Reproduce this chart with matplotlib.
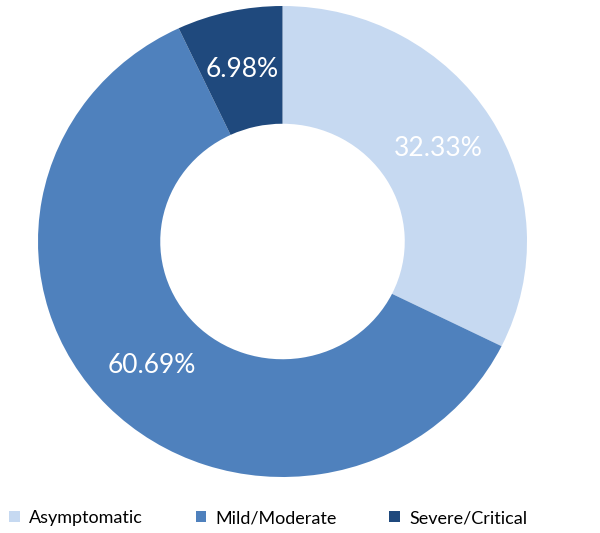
import matplotlib.pyplot as plt

# Data
categories = ['Asymptomatic', 'Mild/Moderate', 'Severe/Critical']
shares = [32.33, 60.69, 6.98]
colors = ['#C6D9F1', '#4F81BD', '#1F497D']

plt.rcParams['font.family'] = ['Lato', 'DejaVu Sans']

fig = plt.figure(figsize=(6.0, 5.33), dpi=100)
ax = fig.add_axes([38 / 600, 56 / 533, 489 / 600, 471 / 533])

wedges, texts, autotexts = ax.pie(
    shares,
    colors=colors,
    startangle=90,
    counterclock=False,
    autopct='%.2f%%',
    pctdistance=0.75,
    wedgeprops=dict(width=0.5, linewidth=0),
    textprops=dict(color='white', fontsize=19),
)
ax.set_aspect('auto')
ax.set_xlim(-1, 1)
ax.set_ylim(-1, 1)
for w in wedges:
    w.set_clip_on(False)

# Legend along the bottom
fig.legend(
    wedges, categories,
    loc='center left', bbox_to_anchor=(4 / 600, 1 - 518 / 533),
    ncol=3, frameon=False, fontsize=13,
    handlelength=0.6, handleheight=0.6, handletextpad=0.5,
    columnspacing=2.9, borderaxespad=0, borderpad=0.3,
)

plt.savefig('out.png', dpi=100)
